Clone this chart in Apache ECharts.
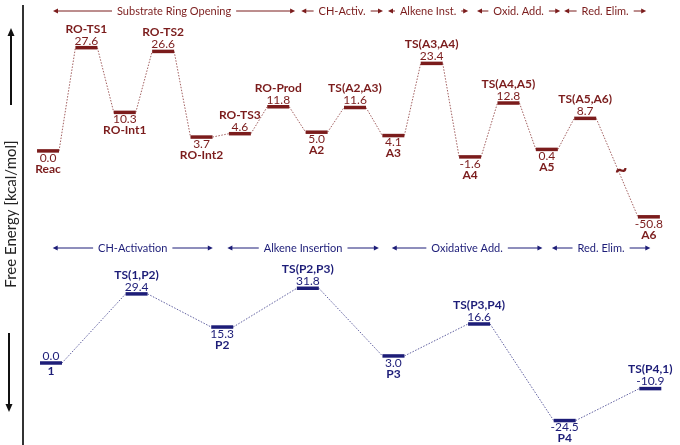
<!DOCTYPE html>
<html>
<head>
<meta charset="utf-8">
<script src="https://cdn.jsdelivr.net/npm/echarts@6.0.0/dist/echarts.min.js"></script>
<style>
html, body { margin: 0; padding: 0; background: #fff; }
#main { width: 680px; height: 445px; }
</style>
</head>
<body>
<div id="main"></div>
<script>
// upper profile: ring opening + cycle A
var topNames = ['Reac', 'RO-TS1', 'RO-Int1', 'RO-TS2', 'RO-Int2', 'RO-TS3', 'RO-Prod', 'A2', 'TS(A2,A3)', 'A3', 'TS(A3,A4)', 'A4', 'TS(A4,A5)', 'A5', 'TS(A5,A6)', 'A6'];
var topEnergy = [0.0, 27.6, 10.3, 26.6, 3.7, 4.6, 11.8, 5.0, 11.6, 4.1, 23.4, -1.6, 12.8, 0.4, 8.7, -50.8];
// reaction coordinate, A6 sits after the energy break
var topCoord = [0, 1, 2, 3, 4, 5, 6, 7, 8, 9, 10, 11, 12, 13, 14, 15.66];
var topPhases = ['Substrate Ring Opening', 'CH-Activ.', 'Alkene Inst.', 'Oxid. Add.', 'Red. Elim.'];
var topPhaseFrom = [0.13, 6.6, 8.86, 11.18, 13.45];
var topPhaseTo = [6.44, 8.73, 10.95, 13.35, 15.59];

// lower profile: cycle P
var botNames = ['1', 'TS(1,P2)', 'P2', 'TS(P2,P3)', 'P3', 'TS(P3,P4)', 'P4', 'TS(P4,1)'];
var botEnergy = [0.0, 29.4, 15.3, 31.8, 3.0, 16.6, -24.5, -10.9];
var botCoord = [0, 1, 2, 3, 4, 5, 6, 7];
var botPhases = ['CH-Activation', 'Alkene Insertion', 'Oxidative Add.', 'Red. Elim.'];
var botPhaseFrom = [0.02, 2.06, 3.98, 5.85];
var botPhaseTo = [1.89, 3.83, 5.74, 7.0];

var RED = '#7b1c1c';
var NAVY = '#1d1d78';
var FONT = 'Lato';

var chart = echarts.init(document.getElementById('main'));

// draws one level bar, its labels and the dotted link to the next level
function levelRenderer(names, energy, coord, color, isTop) {
  return function (params, api) {
    var i = params.dataIndex;
    var p = api.coord([api.value(0), api.value(1)]);
    var half = 11;
    var kids = [];
    if (i < energy.length - 1) {
      var q = api.coord([coord[i + 1], energy[i + 1]]);
      kids.push({
        type: 'line',
        shape: { x1: p[0] + half, y1: p[1], x2: q[0] - half, y2: q[1] },
        style: { stroke: color, lineWidth: 1, lineDash: [1.5, 1.5], opacity: 0.7 }
      });
    }
    kids.push({
      type: 'line',
      shape: { x1: p[0] - half, y1: p[1], x2: p[0] + half, y2: p[1] },
      style: { stroke: color, lineWidth: 3.5 }
    });
    var name = names[i];
    var above = name.indexOf('TS') >= 0 || (isTop && name === 'RO-Prod');
    var valueAbove = above || (!isTop && i === 0);
    var valText = energy[i].toFixed(1);
    if (above) {
      kids.push({ type: 'text', x: p[0], y: p[1] - 1, style: { text: valText, fill: color, font: '12px ' + FONT, align: 'center', verticalAlign: 'bottom' } });
      kids.push({ type: 'text', x: p[0], y: p[1] - 13, style: { text: name, fill: color, font: 'bold 12px ' + FONT, align: 'center', verticalAlign: 'bottom' } });
    } else if (valueAbove) {
      kids.push({ type: 'text', x: p[0], y: p[1] - 1, style: { text: valText, fill: color, font: '12px ' + FONT, align: 'center', verticalAlign: 'bottom' } });
      kids.push({ type: 'text', x: p[0], y: p[1] + 2, style: { text: name, fill: color, font: 'bold 12px ' + FONT, align: 'center', verticalAlign: 'top' } });
    } else {
      kids.push({ type: 'text', x: p[0], y: p[1] + 1, style: { text: valText, fill: color, font: '12px ' + FONT, align: 'center', verticalAlign: 'top' } });
      kids.push({ type: 'text', x: p[0], y: p[1] + 12, style: { text: name, fill: color, font: 'bold 12px ' + FONT, align: 'center', verticalAlign: 'top' } });
    }
    return { type: 'group', children: kids };
  };
}

var option = {
  backgroundColor: '#ffffff',
  animation: false,
  grid: [
    { left: 30, right: 10, top: 20, height: 220 },
    { left: 30, right: 10, top: 270, height: 170 }
  ],
  xAxis: [
    { gridIndex: 0, type: 'value', min: -0.47, max: 16.21, show: false },
    { gridIndex: 1, type: 'value', min: -0.245, max: 7.23, show: false }
  ],
  yAxis: [
    {
      gridIndex: 0, type: 'value', min: -57, max: 35, show: false,
      breaks: [{ start: -48, end: -6, gap: '15%' }],
      breakArea: { show: false }
    },
    { gridIndex: 1, type: 'value', min: -32.77, max: 39.57, show: false }
  ],
  series: [
    {
      type: 'custom',
      xAxisIndex: 0,
      yAxisIndex: 0,
      clip: false,
      renderItem: levelRenderer(topNames, topEnergy, topCoord, RED, true),
      data: topCoord.map(function (x, i) { return [x, topEnergy[i]]; })
    },
    {
      type: 'custom',
      xAxisIndex: 1,
      yAxisIndex: 1,
      clip: false,
      renderItem: levelRenderer(botNames, botEnergy, botCoord, NAVY, false),
      data: botCoord.map(function (x, i) { return [x, botEnergy[i]]; })
    }
  ]
};
chart.setOption(option);

// phase arrows above each profile
function phaseArrows(names, from, to, axisIndex, y, color) {
  var out = [];
  names.forEach(function (name, k) {
    var x1 = chart.convertToPixel({ xAxisIndex: axisIndex }, from[k]);
    var x2 = chart.convertToPixel({ xAxisIndex: axisIndex }, to[k]);
    out.push({ type: 'line', shape: { x1: x1 + 3, y1: y, x2: x2 - 3, y2: y }, style: { stroke: color, lineWidth: 1 } });
    out.push({ type: 'polygon', shape: { points: [[x1, y], [x1 + 5, y - 2.5], [x1 + 5, y + 2.5]] }, style: { fill: color } });
    out.push({ type: 'polygon', shape: { points: [[x2, y], [x2 - 5, y - 2.5], [x2 - 5, y + 2.5]] }, style: { fill: color } });
    out.push({
      type: 'text', x: (x1 + x2) / 2, y: y, z: 10,
      style: { text: name, fill: color, font: '11px ' + FONT, align: 'center', verticalAlign: 'middle', backgroundColor: '#fff', padding: [0, 5] }
    });
  });
  return out;
}

var graphics = [];
graphics = graphics.concat(phaseArrows(topPhases, topPhaseFrom, topPhaseTo, 0, 11, RED));
graphics = graphics.concat(phaseArrows(botPhases, botPhaseFrom, botPhaseTo, 1, 248, NAVY));

// break marker on the last link of the upper profile
var n = topEnergy.length;
var pa = chart.convertToPixel({ xAxisIndex: 0, yAxisIndex: 0 }, [topCoord[n - 2], topEnergy[n - 2]]);
var pb = chart.convertToPixel({ xAxisIndex: 0, yAxisIndex: 0 }, [topCoord[n - 1], topEnergy[n - 1]]);
graphics.push({
  type: 'text', x: (pa[0] + pb[0]) / 2 + 4, y: (pa[1] + pb[1]) / 2 + 2,
  style: { text: '~', fill: RED, font: 'bold 22px ' + FONT, align: 'center', verticalAlign: 'middle' }
});

// energy axis with arrows
graphics.push({ type: 'line', shape: { x1: 23, y1: 5, x2: 23, y2: 445 }, style: { stroke: '#333', lineWidth: 2 } });
graphics.push({ type: 'line', shape: { x1: 11, y1: 105, x2: 11, y2: 34 }, style: { stroke: '#111', lineWidth: 2 } });
graphics.push({ type: 'polygon', shape: { points: [[11, 28], [7.5, 36], [14.5, 36]] }, style: { fill: '#111' } });
graphics.push({ type: 'line', shape: { x1: 9, y1: 333, x2: 9, y2: 406 }, style: { stroke: '#111', lineWidth: 2 } });
graphics.push({ type: 'polygon', shape: { points: [[9, 412], [5.5, 404], [12.5, 404]] }, style: { fill: '#111' } });
graphics.push({
  type: 'text', x: 11, y: 214, rotation: Math.PI / 2,
  style: { text: 'Free Energy [kcal/mol]', fill: '#222', font: '15px ' + FONT, align: 'center', verticalAlign: 'middle' }
});

chart.setOption({ graphic: graphics });

window.onresize = function () {
  chart.resize();
};
</script>
</body>
</html>
